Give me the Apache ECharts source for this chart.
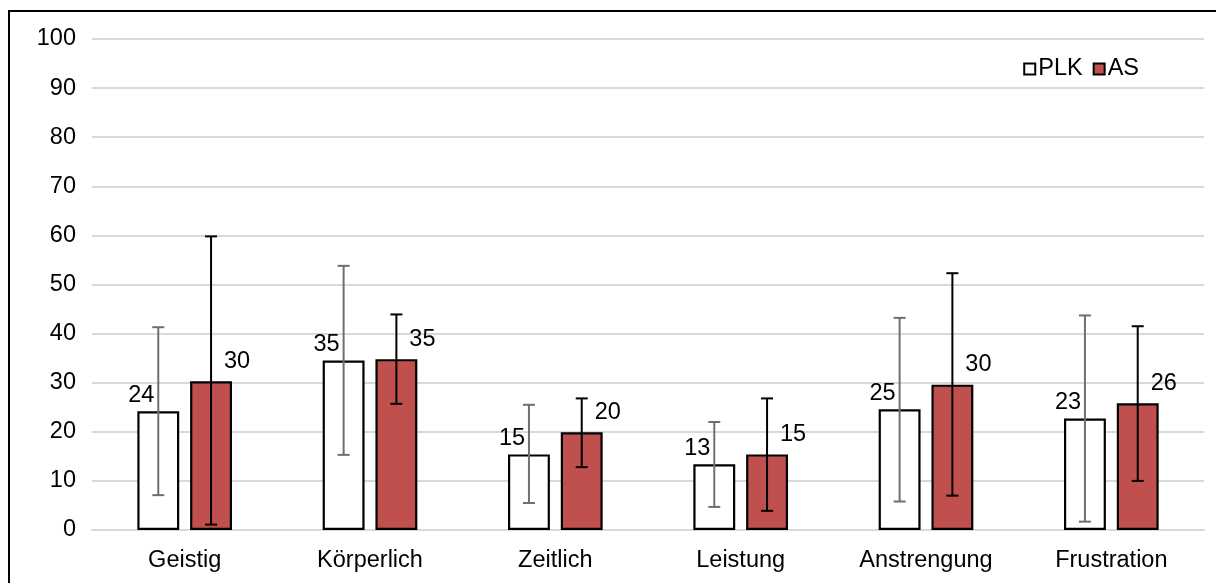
<!DOCTYPE html>
<html>
<head>
<meta charset="utf-8">
<script src="https://cdn.jsdelivr.net/npm/echarts@6/dist/echarts.min.js"></script>
<style>
html,body{margin:0;padding:0;background:#fff;overflow:hidden;}
#chart{position:absolute;left:0;top:0;width:1216px;height:583px;}
#frame{position:absolute;left:8px;top:10px;width:1300px;height:700px;border-left:2px solid #000;border-top:2px solid #000;pointer-events:none;}
</style>
</head>
<body>
<div id="chart"></div>
<div id="frame"></div>
<script>
const categories = ['Geistig', 'Körperlich', 'Zeitlich', 'Leistung', 'Anstrengung', 'Frustration'];
const plkValues = [24.2, 34.5, 15.4, 13.4, 24.6, 22.7];
const plkLow    = [7.1, 15.3, 5.5, 4.7, 5.8, 1.7];
const plkHigh   = [41.3, 53.8, 25.5, 22.0, 43.2, 43.7];
const asValues  = [30.3, 34.8, 19.9, 15.4, 29.6, 25.8];
const asLow     = [1.1, 25.7, 12.8, 3.9, 7.0, 10.0];
const asHigh    = [59.8, 43.9, 26.8, 26.8, 52.3, 41.5];
const yTicks = { min: 0, max: 100, interval: 10 };

const FONT = 'Liberation Sans, Arial, sans-serif';
const FS = 23.5;
const BAR_W = 0.226;
const BAR_GAP = 0.26;

function errorSeries(name, low, high, side, color) {
  return {
    name: name + ' err',
    type: 'custom',
    z: 10,
    silent: true,
    data: categories.map((c, i) => [i, low[i], high[i]]),
    renderItem: function (params, api) {
      const idx = api.value(0);
      const band = api.size([1, 0])[0];
      const bw = band * BAR_W;
      const total = bw * 2 + bw * BAR_GAP;
      const center = api.coord([idx, 0])[0];
      const x = side < 0 ? center - total / 2 + bw / 2 : center + total / 2 - bw / 2;
      const yl = api.coord([idx, api.value(1)])[1];
      const yh = api.coord([idx, api.value(2)])[1];
      const cap = 6;
      const style = { stroke: color, lineWidth: 2 };
      return {
        type: 'group',
        children: [
          { type: 'line', shape: { x1: x, y1: yl, x2: x, y2: yh }, style: style },
          { type: 'line', shape: { x1: x - cap, y1: yh, x2: x + cap, y2: yh }, style: style },
          { type: 'line', shape: { x1: x - cap, y1: yl, x2: x + cap, y2: yl }, style: style }
        ]
      };
    }
  };
}

const chart = echarts.init(document.getElementById('chart'), null, { renderer: 'canvas' });
chart.setOption({
  animation: false,
  textStyle: { fontFamily: FONT },
  grid: { left: 92, right: 12, top: 39, bottom: 53, containLabel: false },
  legend: {
    data: ['PLK', 'AS'],
    right: 72,
    top: 52,
    icon: 'rect',
    itemWidth: 11,
    itemHeight: 11,
    itemGap: 10,
    textStyle: { fontSize: FS, color: '#000', fontFamily: FONT, padding: [0, 0, 0, -2] }
  },
  xAxis: {
    type: 'category',
    data: categories,
    axisLine: { show: true, lineStyle: { color: '#d9d9d9', width: 2 } },
    axisTick: { show: false },
    axisLabel: { fontSize: FS, color: '#000', margin: 19, fontFamily: FONT }
  },
  yAxis: {
    type: 'value',
    min: yTicks.min,
    max: yTicks.max,
    interval: yTicks.interval,
    axisLine: { show: false },
    axisTick: { show: false },
    axisLabel: { fontSize: FS, color: '#000', margin: 16, fontFamily: FONT },
    splitLine: { lineStyle: { color: '#d9d9d9', width: 2 } }
  },
  series: [
    {
      name: 'PLK',
      type: 'bar',
      data: plkValues,
      barWidth: (BAR_W * 100) + '%',
      barGap: (BAR_GAP * 100) + '%',
      itemStyle: { color: '#ffffff', borderColor: '#000', borderWidth: 2.2 },
      label: {
        show: true, position: 'top', distance: 4, offset: [-17, 0],
        fontSize: FS, color: '#000', fontFamily: FONT,
        formatter: p => Math.round(p.value)
      }
    },
    {
      name: 'AS',
      type: 'bar',
      data: asValues,
      barWidth: (BAR_W * 100) + '%',
      itemStyle: { color: '#c0504d', borderColor: '#000', borderWidth: 2.2 },
      label: {
        show: true, position: 'top', distance: 8, offset: [26, 0],
        fontSize: FS, color: '#000', fontFamily: FONT,
        formatter: p => Math.round(p.value)
      }
    },
    errorSeries('PLK', plkLow, plkHigh, -1, '#6f6f6f'),
    errorSeries('AS', asLow, asHigh, 1, '#000000')
  ]
});
</script>
</body>
</html>
